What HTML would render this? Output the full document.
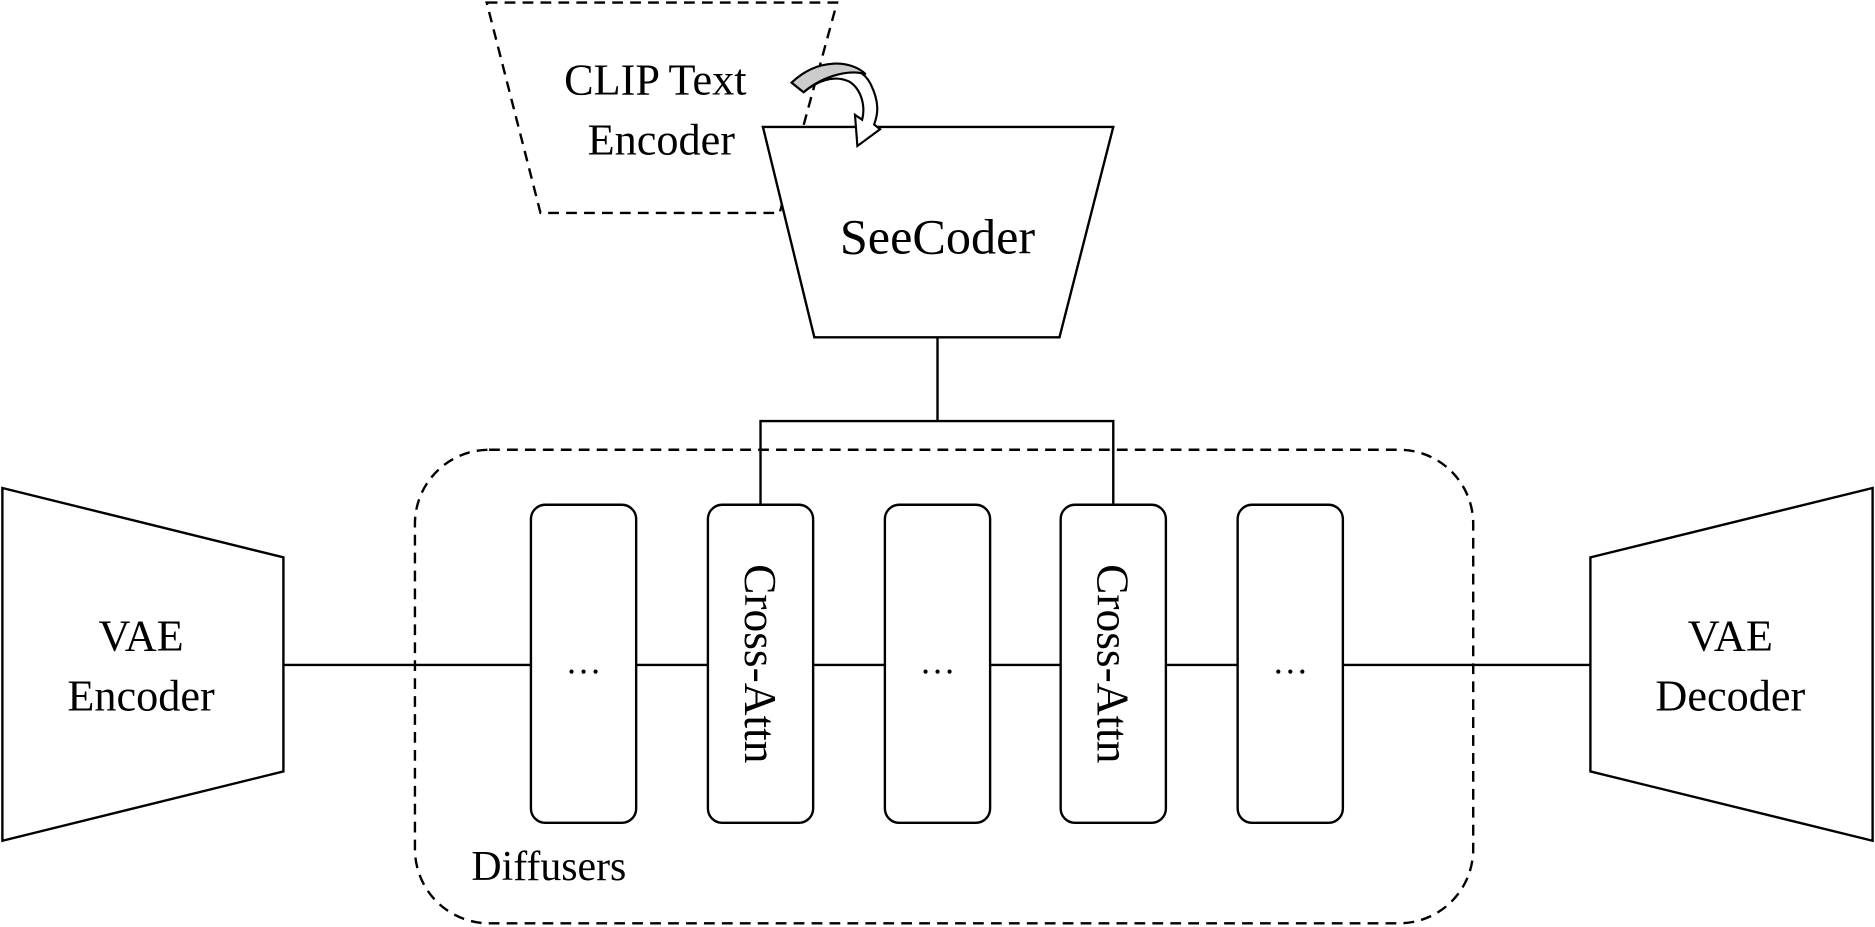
<!DOCTYPE html>
<html><head><style>html,body{margin:0;padding:0;background:#fff}svg{display:block}</style></head>
<body>
<svg width="1875" height="927" viewBox="0 0 1568 775" xmlns="http://www.w3.org/2000/svg" font-family="Liberation Serif, serif" fill="none" stroke="#000" stroke-width="2">
<rect x="0" y="0" width="1568" height="775" fill="#fff" stroke="none"/>
<polygon points="407,2 700,2 652,178 452,178" stroke-dasharray="9,6"/>
<polygon points="638,106 931,106 886,282 681,282" fill="#fff"/>
<path d="M784,282 V352 M636,422 V352 H931 V422"/>
<rect x="347" y="376" width="885" height="396" rx="62" stroke-dasharray="9,6"/>
<path d="M237,556 H444 M532,556 H592 M680,556 H740 M828,556 H887 M975,556 H1035 M1123,556 H1330"/>
<g fill="#fff">
<rect x="444" y="422" width="88" height="266" rx="12"/>
<rect x="592" y="422" width="88" height="266" rx="12"/>
<rect x="740" y="422" width="88" height="266" rx="12"/>
<rect x="887" y="422" width="88" height="266" rx="12"/>
<rect x="1035" y="422" width="88" height="266" rx="12"/>
<polygon points="2,408 237,466 237,645 2,703"/>
<polygon points="1330,466 1566,408 1566,703 1330,645"/>
</g>
<path d="M662,69 C684,48 718,50 728,70 C736,86 734,96 731,104 L736,108 L717,122 L715,96 L721,100 C724,88 720,74 710,68 C697,62 683,68 672,77 Z" fill="#fff" stroke-width="1.8"/>
<path d="M662,69 C684,48 712,50 724,62 C712,58 690,62 672,77 Z" fill="#ccc" stroke-width="1.8"/>
<g fill="#000" stroke="none" text-anchor="middle">
<text x="548" y="79" font-size="37">CLIP Text</text>
<text x="553" y="129" font-size="37">Encoder</text>
<text x="784" y="212" font-size="42">SeeCoder</text>
<text x="118" y="544" font-size="37">VAE</text>
<text x="118" y="594" font-size="37">Encoder</text>
<text x="1447" y="544" font-size="37">VAE</text>
<text x="1447" y="594" font-size="37">Decoder</text>
<text x="488" y="563" font-size="30">…</text>
<text x="784" y="563" font-size="30">…</text>
<text x="1079" y="563" font-size="30">…</text>
<text x="459" y="736" font-size="35">Diffusers</text>
<text transform="translate(623,555) rotate(90)" font-size="38">Cross-Attn</text>
<text transform="translate(918,555) rotate(90)" font-size="38">Cross-Attn</text>
</g>
</svg>
</body></html>
